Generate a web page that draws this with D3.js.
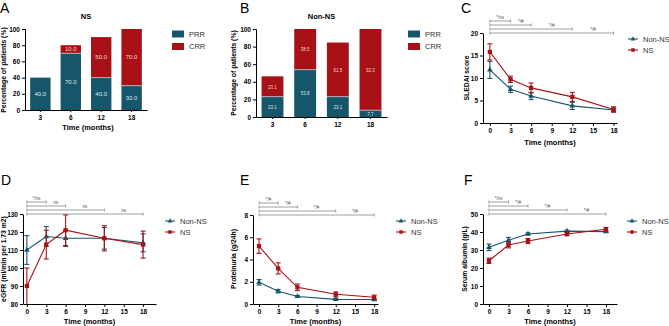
<!DOCTYPE html>
<html>
<head>
<meta charset="utf-8">
<script src="https://cdn.jsdelivr.net/npm/d3@7"></script>
<style>
  body { margin: 0; background: #fff; }
  svg { font-family: "Liberation Sans", Arial, sans-serif; }
</style>
</head>
<body>
<svg id="chart" width="669" height="326"></svg>
<script>
// ---- data ----
var barMonths = ["3", "6", "12", "18"];
var nsPRR = [40, 70, 40, 30];
var nsCRR = [0, 10, 50, 70];
var nsPRRLabels = ["40.0", "70.0", "40.0", "30.0"];
var nsCRRLabels = ["", "10.0", "50.0", "70.0"];
var nonPRR = [23.1, 53.8, 23.1, 7.7];
var nonCRR = [23.1, 46.2, 61.5, 92.3];
var nonPRRLabels = ["23.1", "53.8", "23.1", "7.7"];
var nonCRRLabels = ["23.1", "38.5", "61.5", "92.3"];

var months = [0, 3, 6, 12, 18];
var xTicks = [0, 3, 6, 9, 12, 15, 18];

var sledaiNon = [11.8, 7.5, 6.0, 3.8, 2.9];
var sledaiNonErr = [1.9, 0.7, 0.8, 0.8, 0.4];
var sledaiNS = [15.8, 9.7, 7.8, 5.8, 3.0];
var sledaiNSErr = [1.8, 0.7, 1.1, 1.0, 0.6];

var egfrNon = [110, 117.5, 116.5, 116.5, 114];
var egfrNonErr = [8, 5.5, 4.5, 6, 5];
var egfrNS = [90, 113, 121, 116.5, 113];
var egfrNSErr = [10, 8, 8.5, 7, 7.5];

var protNon = [1.95, 1.15, 0.68, 0.42, 0.4];
var protNonErr = [0.25, 0.15, 0.08, 0.08, 0.06];
var protNS = [5.2, 3.2, 1.5, 0.87, 0.6];
var protNSErr = [0.65, 0.5, 0.3, 0.22, 0.2];

var albNon = [31.5, 35.4, 38.9, 40.5, 40.2];
var albNonErr = [1.8, 1.6, 0.6, 0.4, 0.5];
var albNS = [24, 32.8, 35, 38.9, 41.5];
var albNSErr = [1.5, 1.6, 1.4, 1.0, 1.0];

var bracketEnds = [3, 6, 12, 18];

var teal = "#16566b";
var red = "#a81116";

var svg = d3.select("#chart");

function panelLetter(t, x, y) {
  svg.append("text").attr("x", x).attr("y", y)
    .attr("font-size", 14).text(t);
}

function yTitle(t, x, y) {
  svg.append("text")
    .attr("transform", `translate(${x},${y}) rotate(-90)`)
    .attr("text-anchor", "middle")
    .attr("font-size", 6.8).attr("font-weight", "bold")
    .text(t);
}

function styleAxis(g) {
  g.selectAll("path, line").attr("stroke", "#000").attr("stroke-width", 1);
  g.selectAll("text").attr("font-size", 6.5).attr("font-weight", "bold")
    .attr("font-family", "Liberation Sans, Arial, sans-serif");
}

// stacked bar panel
function barPanel(c) {
  var x = d3.scaleBand().domain(barMonths).range([c.left, c.right])
    .paddingInner(0.33).paddingOuter(0.17);
  var y = d3.scaleLinear().domain([0, 100]).range([c.bottom, c.top]);

  svg.append("g").attr("transform", `translate(${c.left},0)`)
    .call(d3.axisLeft(y).tickValues([0, 20, 40, 60, 80, 100]).tickSize(3).tickPadding(2))
    .call(styleAxis);
  svg.append("g").attr("transform", `translate(0,${c.bottom})`)
    .call(d3.axisBottom(x).tickSize(2).tickPadding(3).tickSizeOuter(0))
    .call(styleAxis);

  barMonths.forEach(function(m, i) {
    var p = c.prr[i], r = c.crr[i];
    svg.append("rect")
      .attr("x", x(m)).attr("width", x.bandwidth())
      .attr("y", y(p)).attr("height", y(0) - y(p))
      .attr("fill", teal);
    if (r > 0) {
      svg.append("rect")
        .attr("x", x(m)).attr("width", x.bandwidth())
        .attr("y", y(p + r)).attr("height", y(p) - y(p + r))
        .attr("fill", red);
      svg.append("line")
        .attr("x1", x(m)).attr("x2", x(m) + x.bandwidth())
        .attr("y1", y(p)).attr("y2", y(p))
        .attr("stroke", "#c9d6dc").attr("stroke-width", 0.7);
    }
    svg.append("text")
      .attr("x", x(m) + x.bandwidth() / 2).attr("y", y(p / 2) + 2)
      .attr("text-anchor", "middle").attr("font-size", c.labelSize)
      .attr("fill", "#dbe6eb").text(c.prrLabels[i]);
    if (c.crrLabels[i]) {
      svg.append("text")
        .attr("x", x(m) + x.bandwidth() / 2).attr("y", y(p + r / 2) + 2)
        .attr("text-anchor", "middle").attr("font-size", c.labelSize)
        .attr("fill", "#f3d3d3").text(c.crrLabels[i]);
    }
  });

  svg.append("text").attr("x", (c.left + c.right) / 2).attr("y", c.top - 10)
    .attr("text-anchor", "middle").attr("font-size", 7.5).attr("font-weight", "bold")
    .text(c.title);

  if (c.xTitle) {
    svg.append("text").attr("x", (c.left + c.right) / 2 + 2).attr("y", c.bottom + 20)
      .attr("text-anchor", "middle").attr("font-size", 7.5).attr("font-weight", "bold")
      .text("Time (months)");
  }

  [["PRR", teal], ["CRR", red]].forEach(function(d, i) {
    svg.append("rect").attr("x", c.legX).attr("y", c.legY + i * 12.5 - 3.5)
      .attr("width", 12).attr("height", 7).attr("fill", d[1]);
    svg.append("text").attr("x", c.legX + 17).attr("y", c.legY + i * 12.5 + 2.5)
      .attr("font-size", 7.5).attr("fill", "#333").text(d[0]);
  });
}

// line panel with error bars
function linePanel(c) {
  var x = d3.scaleLinear().domain(c.xDomain).range([c.left, c.right]);
  var y = d3.scaleLinear().domain(c.yDomain).range([c.bottom, c.top]);

  svg.append("g").attr("transform", `translate(${c.left},0)`)
    .call(d3.axisLeft(y).tickValues(c.yTicks).tickSize(3).tickPadding(2).tickSizeOuter(0))
    .call(styleAxis);
  svg.append("g").attr("transform", `translate(0,${c.bottom})`)
    .call(d3.axisBottom(x).tickValues(xTicks).tickSize(3).tickPadding(2).tickSizeOuter(0))
    .call(styleAxis);

  svg.append("text").attr("x", (c.left + c.right) / 2).attr("y", Math.min(c.bottom + 22, 324))
    .attr("text-anchor", "middle").attr("font-size", 7.5).attr("font-weight", "bold")
    .text("Time (months)");

  // significance brackets
  var offs = [-12, -8, -4, 0];
  bracketEnds.forEach(function(e, i) {
    var yy = c.top + offs[i];
    var g = svg.append("g").attr("stroke", "#888").attr("stroke-width", 0.8);
    g.append("line").attr("x1", x(0)).attr("x2", x(e)).attr("y1", yy).attr("y2", yy);
    g.append("line").attr("x1", x(0)).attr("x2", x(0)).attr("y1", yy - 1.5).attr("y2", yy + 1.5);
    g.append("line").attr("x1", x(e)).attr("x2", x(e)).attr("y1", yy - 1.5).attr("y2", yy + 1.5);
    var prev = i === 0 ? 0 : bracketEnds[i - 1];
    svg.append("text").attr("x", (x(prev) + x(e)) / 2).attr("y", yy - 2.5)
      .attr("text-anchor", "middle").attr("font-size", 4.5).attr("fill", "#555")
      .text(c.sig[i]);
  });

  var line = d3.line().x(function(d) { return x(d[0]); }).y(function(d) { return y(d[1]); });
  var series = [
    { v: c.non, e: c.nonErr, color: teal, sym: d3.symbolTriangle, size: 14 },
    { v: c.ns, e: c.nsErr, color: red, sym: d3.symbolSquare, size: 18 }
  ];
  series.forEach(function(s) {
    var pts = months.map(function(m, i) { return [m, s.v[i], s.e[i]]; });
    svg.append("path").datum(pts).attr("d", line)
      .attr("fill", "none").attr("stroke", s.color).attr("stroke-width", 1.1);
    pts.forEach(function(p) {
      var lo = Math.max(p[1] - p[2], c.yDomain[0]);
      var hi = p[1] + p[2];
      var g = svg.append("g").attr("stroke", s.color).attr("stroke-width", 1.1);
      g.append("line").attr("x1", x(p[0])).attr("x2", x(p[0])).attr("y1", y(lo)).attr("y2", y(hi));
      g.append("line").attr("x1", x(p[0]) - 2.5).attr("x2", x(p[0]) + 2.5).attr("y1", y(hi)).attr("y2", y(hi));
      if (p[1] - p[2] > c.yDomain[0]) {
        g.append("line").attr("x1", x(p[0]) - 2.5).attr("x2", x(p[0]) + 2.5).attr("y1", y(lo)).attr("y2", y(lo));
      }
      svg.append("path")
        .attr("d", d3.symbol().type(s.sym).size(s.size)())
        .attr("transform", `translate(${x(p[0])},${y(p[1])})`)
        .attr("fill", s.color);
    });
  });

  // legend
  [["Non-NS", teal, d3.symbolTriangle, 10], ["NS", red, d3.symbolSquare, 12]].forEach(function(d, i) {
    var ly = c.legY + i * 11;
    svg.append("line").attr("x1", c.legX - 5).attr("x2", c.legX + 5)
      .attr("y1", ly).attr("y2", ly).attr("stroke", d[1]).attr("stroke-width", 1.1);
    svg.append("path").attr("d", d3.symbol().type(d[2]).size(d[3])())
      .attr("transform", `translate(${c.legX},${ly})`).attr("fill", d[1]);
    svg.append("text").attr("x", c.legX + 10).attr("y", ly + 2.5)
      .attr("font-size", 7.5).attr("fill", "#333").text(d[0]);
  });
}

// ---- panels ----
panelLetter("A", 0, 13);
barPanel({ left: 25, right: 147, top: 29, bottom: 110, prr: nsPRR, crr: nsCRR,
  prrLabels: nsPRRLabels, crrLabels: nsCRRLabels, labelSize: 6, title: "NS",
  xTitle: true, legX: 172, legY: 34 });
yTitle("Percentage of patients (%)", 6, 70);

panelLetter("B", 240, 13);
barPanel({ left: 256, right: 387, top: 29, bottom: 117, prr: nonPRR, crr: nonCRR,
  prrLabels: nonPRRLabels, crrLabels: nonCRRLabels, labelSize: 4.5, title: "Non-NS",
  xTitle: false, legX: 408, legY: 34 });
yTitle("Percentage of patients (%)", 236, 73);

panelLetter("C", 461, 13);
linePanel({ left: 483, right: 617, xDomain: [-1, 18.5], top: 33, bottom: 123,
  yDomain: [0, 20], yTicks: [0, 5, 10, 15, 20],
  non: sledaiNon, nonErr: sledaiNonErr, ns: sledaiNS, nsErr: sledaiNSErr,
  sig: ["*/ns", "*/#", "*/#", "*/#"], legX: 633, legY: 39 });
yTitle("SLEDAI score", 469, 78);

panelLetter("D", 1, 185);
linePanel({ left: 23, right: 156, xDomain: [-0.6, 20], top: 214, bottom: 304,
  yDomain: [80, 130], yTicks: [80, 90, 100, 110, 120, 130],
  non: egfrNon, nonErr: egfrNonErr, ns: egfrNS, nsErr: egfrNSErr,
  sig: ["*/ns", "ns", "ns", "ns"], legX: 170, legY: 221 });
yTitle("eGFR (ml/min per 1.73 m2)", 5.5, 259);

panelLetter("E", 240, 185);
linePanel({ left: 253, right: 378, xDomain: [-0.94, 18.6], top: 215, bottom: 304,
  yDomain: [0, 8], yTicks: [0, 2, 4, 6, 8],
  non: protNon, nonErr: protNonErr, ns: protNS, nsErr: protNSErr,
  sig: ["*/#", "*/#", "*/#", "*/#"], legX: 401, legY: 221 });
yTitle("Proteinuria (g/24h)", 236, 259);

panelLetter("F", 464, 185);
linePanel({ left: 483, right: 617, xDomain: [-0.92, 19.7], top: 214, bottom: 304,
  yDomain: [0, 50], yTicks: [0, 10, 20, 30, 40, 50],
  non: albNon, nonErr: albNonErr, ns: albNS, nsErr: albNSErr,
  sig: ["*/ns", "*/#", "*/#", "*/#"], legX: 632, legY: 221 });
yTitle("Serum albumin (g/L)", 467, 259);
</script>
</body>
</html>
